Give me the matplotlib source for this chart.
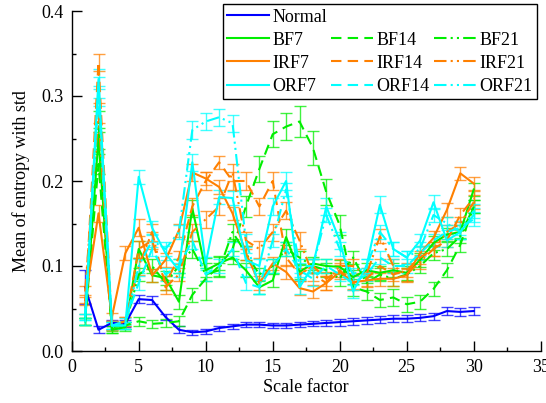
import matplotlib
matplotlib.use("Agg")
import matplotlib.pyplot as plt
from matplotlib.lines import Line2D

scale = list(range(1, 31))

normal = [0.075, 0.025, 0.033, 0.032, 0.061, 0.060, 0.040, 0.025, 0.022, 0.023,
          0.027, 0.029, 0.031, 0.031, 0.030, 0.030, 0.031, 0.032, 0.033, 0.034,
          0.035, 0.036, 0.037, 0.038, 0.038, 0.039, 0.041, 0.047, 0.046, 0.047]
normal_err = [0.020, 0.004, 0.004, 0.004, 0.005, 0.005, 0.004, 0.004, 0.003, 0.003,
              0.003, 0.003, 0.003, 0.003, 0.003, 0.003, 0.003, 0.003, 0.004, 0.004,
              0.004, 0.004, 0.004, 0.004, 0.004, 0.004, 0.004, 0.005, 0.005, 0.005]

bf7 = [0.035, 0.250, 0.025, 0.028, 0.120, 0.089, 0.086, 0.058, 0.168, 0.095,
       0.103, 0.110, 0.095, 0.075, 0.083, 0.134, 0.093, 0.103, 0.100, 0.099,
       0.087, 0.095, 0.092, 0.095, 0.092, 0.107, 0.127, 0.137, 0.140, 0.190]
bf7_err = [0.004, 0.012, 0.004, 0.004, 0.010, 0.008, 0.008, 0.008, 0.010, 0.008,
           0.008, 0.008, 0.008, 0.008, 0.008, 0.009, 0.008, 0.008, 0.008, 0.008,
           0.008, 0.008, 0.008, 0.008, 0.008, 0.008, 0.008, 0.008, 0.008, 0.008]

bf14 = [0.035, 0.220, 0.025, 0.030, 0.035, 0.032, 0.033, 0.035, 0.066, 0.085,
        0.100, 0.120, 0.170, 0.214, 0.255, 0.264, 0.270, 0.239, 0.187, 0.148,
        0.075, 0.070, 0.060, 0.063, 0.055, 0.058, 0.073, 0.095, 0.125, 0.170]
bf14_err = [0.004, 0.012, 0.004, 0.004, 0.005, 0.005, 0.005, 0.006, 0.008, 0.025,
            0.012, 0.012, 0.012, 0.015, 0.015, 0.016, 0.018, 0.020, 0.015, 0.012,
            0.010, 0.010, 0.008, 0.010, 0.009, 0.008, 0.008, 0.008, 0.008, 0.008]

bf21 = [0.035, 0.270, 0.028, 0.030, 0.090, 0.100, 0.080, 0.100, 0.120, 0.090,
        0.095, 0.140, 0.115, 0.090, 0.100, 0.120, 0.110, 0.100, 0.095, 0.085,
        0.110, 0.080, 0.090, 0.085, 0.090, 0.100, 0.115, 0.120, 0.135, 0.170]
bf21_err = [0.004, 0.012, 0.004, 0.004, 0.008, 0.008, 0.008, 0.008, 0.010, 0.008,
            0.008, 0.010, 0.008, 0.008, 0.008, 0.008, 0.008, 0.008, 0.008, 0.008,
            0.008, 0.008, 0.008, 0.008, 0.008, 0.008, 0.008, 0.008, 0.008, 0.008]

irf7 = [0.060, 0.162, 0.040, 0.115, 0.145, 0.089, 0.107, 0.142, 0.210, 0.203,
        0.193, 0.162, 0.115, 0.080, 0.103, 0.093, 0.074, 0.070, 0.080, 0.093,
        0.081, 0.083, 0.085, 0.085, 0.089, 0.115, 0.133, 0.166, 0.209, 0.197]
irf7_err = [0.006, 0.010, 0.005, 0.008, 0.010, 0.008, 0.008, 0.008, 0.010, 0.008,
            0.008, 0.008, 0.008, 0.008, 0.008, 0.008, 0.008, 0.008, 0.008, 0.008,
            0.008, 0.008, 0.008, 0.008, 0.008, 0.008, 0.008, 0.008, 0.008, 0.008]

irf14 = [0.050, 0.340, 0.030, 0.035, 0.120, 0.130, 0.080, 0.110, 0.170, 0.200,
         0.222, 0.200, 0.200, 0.170, 0.200, 0.110, 0.090, 0.100, 0.085, 0.095,
         0.080, 0.085, 0.100, 0.090, 0.095, 0.110, 0.120, 0.130, 0.160, 0.180]
irf14_err = [0.006, 0.010, 0.005, 0.005, 0.010, 0.010, 0.008, 0.008, 0.010, 0.010,
             0.008, 0.010, 0.010, 0.010, 0.010, 0.010, 0.008, 0.008, 0.008, 0.008,
             0.008, 0.008, 0.008, 0.008, 0.008, 0.008, 0.008, 0.008, 0.008, 0.008]

irf21 = [0.070, 0.280, 0.030, 0.035, 0.100, 0.140, 0.075, 0.090, 0.140, 0.155,
         0.170, 0.210, 0.130, 0.120, 0.140, 0.165, 0.130, 0.090, 0.080, 0.100,
         0.100, 0.090, 0.135, 0.100, 0.090, 0.105, 0.120, 0.140, 0.150, 0.175]
irf21_err = [0.006, 0.012, 0.005, 0.005, 0.010, 0.010, 0.008, 0.008, 0.010, 0.010,
             0.010, 0.010, 0.010, 0.010, 0.010, 0.010, 0.010, 0.008, 0.008, 0.008,
             0.008, 0.008, 0.008, 0.008, 0.008, 0.008, 0.008, 0.008, 0.008, 0.008]

orf7 = [0.035, 0.320, 0.030, 0.030, 0.205, 0.145, 0.115, 0.095, 0.222, 0.103,
        0.181, 0.180, 0.107, 0.100, 0.170, 0.200, 0.075, 0.100, 0.170, 0.130,
        0.070, 0.100, 0.172, 0.120, 0.110, 0.130, 0.175, 0.130, 0.140, 0.160]
orf7_err = [0.004, 0.012, 0.004, 0.004, 0.008, 0.008, 0.008, 0.008, 0.010, 0.008,
            0.008, 0.008, 0.008, 0.008, 0.010, 0.010, 0.008, 0.008, 0.010, 0.010,
            0.008, 0.008, 0.010, 0.008, 0.008, 0.008, 0.008, 0.008, 0.008, 0.008]

orf14 = [0.040, 0.300, 0.030, 0.035, 0.080, 0.120, 0.090, 0.100, 0.130, 0.090,
         0.100, 0.120, 0.080, 0.075, 0.100, 0.120, 0.095, 0.085, 0.100, 0.090,
         0.080, 0.090, 0.110, 0.100, 0.100, 0.115, 0.130, 0.140, 0.145, 0.155]
orf14_err = [0.004, 0.012, 0.004, 0.004, 0.008, 0.008, 0.008, 0.008, 0.010, 0.008,
             0.008, 0.008, 0.008, 0.008, 0.008, 0.008, 0.008, 0.008, 0.008, 0.008,
             0.008, 0.008, 0.008, 0.008, 0.008, 0.008, 0.008, 0.008, 0.008, 0.008]

orf21 = [0.040, 0.310, 0.030, 0.030, 0.100, 0.130, 0.120, 0.140, 0.260, 0.270,
         0.275, 0.268, 0.130, 0.075, 0.130, 0.190, 0.100, 0.100, 0.160, 0.120,
         0.090, 0.100, 0.140, 0.120, 0.110, 0.120, 0.160, 0.150, 0.140, 0.165]
orf21_err = [0.004, 0.012, 0.004, 0.004, 0.008, 0.008, 0.008, 0.008, 0.010, 0.010,
             0.010, 0.010, 0.008, 0.008, 0.008, 0.008, 0.008, 0.008, 0.008, 0.008,
             0.008, 0.008, 0.008, 0.008, 0.008, 0.008, 0.008, 0.008, 0.008, 0.008]

BLUE = "#0000ff"
GREEN = "#00ee00"
ORANGE = "#ff8000"
CYAN = "#00ffff"
SOLID = "-"
DASH = (0, (5, 3))
DASHDOT = (0, (6, 2, 1, 2, 1, 2))

series = [
    ("Normal", normal, normal_err, BLUE, SOLID),
    ("BF7", bf7, bf7_err, GREEN, SOLID),
    ("BF14", bf14, bf14_err, GREEN, DASH),
    ("BF21", bf21, bf21_err, GREEN, DASHDOT),
    ("IRF7", irf7, irf7_err, ORANGE, SOLID),
    ("IRF14", irf14, irf14_err, ORANGE, DASH),
    ("IRF21", irf21, irf21_err, ORANGE, DASHDOT),
    ("ORF7", orf7, orf7_err, CYAN, SOLID),
    ("ORF14", orf14, orf14_err, CYAN, DASH),
    ("ORF21", orf21, orf21_err, CYAN, DASHDOT),
]

plt.rcParams["font.family"] = ["Liberation Serif", "DejaVu Serif"]
plt.rcParams["font.size"] = 13

fig = plt.figure(figsize=(5.46, 4.03), dpi=100)
ax = fig.add_axes([71.7 / 546, 52 / 403, (540.7 - 71.7) / 546, 340 / 403])

handles = {}
for name, vals, errs, col, ls in series:
    eb = ax.errorbar(scale, vals, yerr=errs, color=col, linestyle=ls, linewidth=1.5,
                     elinewidth=1.0, capsize=4.0, capthick=1.0, ecolor=col)
    for c in eb[1]:
        c.set_alpha(0.75)
    for c in eb[2]:
        c.set_alpha(0.75)
    handles[name] = Line2D([], [], color=col, linestyle=ls, linewidth=1.5)

ax.set_xlim(0, 35)
ax.set_ylim(0, 0.4)
ax.set_xticks(range(0, 36, 5))
ax.set_xticks([2.5 + 5 * i for i in range(7)], minor=True)
ax.set_yticks([0.0, 0.1, 0.2, 0.3, 0.4])
ax.set_yticklabels(["0.0", "0.1", "0.2", "0.3", "0.4"])
ax.set_yticks([0.05, 0.15, 0.25, 0.35], minor=True)
ax.tick_params(which="major", direction="in", length=7, width=1.0, pad=6)
ax.tick_params(which="minor", direction="in", length=3.2, width=1.0)
ax.spines["top"].set_visible(False)
ax.spines["right"].set_visible(False)
ax.spines["left"].set_linewidth(1.0)
ax.spines["bottom"].set_linewidth(1.0)
ax.set_xlabel("Scale factor", labelpad=2)
ax.set_ylabel("Mean of entropy with std", labelpad=8)

blank = Line2D([], [], linestyle="none")
order = [handles["Normal"], handles["BF7"], handles["IRF7"], handles["ORF7"],
         blank, handles["BF14"], handles["IRF14"], handles["ORF14"],
         blank, handles["BF21"], handles["IRF21"], handles["ORF21"]]
labels = ["Normal", "BF7", "IRF7", "ORF7",
          "", "BF14", "IRF14", "ORF14",
          "", "BF21", "IRF21", "ORF21"]
leg = fig.legend(order, labels, ncol=3, loc="upper right",
                 bbox_to_anchor=(537 / 546, 1 - 4 / 403), borderaxespad=0,
                 fancybox=False, edgecolor="black", framealpha=1,
                 handlelength=2.3, handletextpad=0.2, columnspacing=0.25,
                 labelspacing=0.34, borderpad=0.25, fontsize=13)
leg.get_frame().set_linewidth(1.0)

fig.savefig("out.png", dpi=100)
